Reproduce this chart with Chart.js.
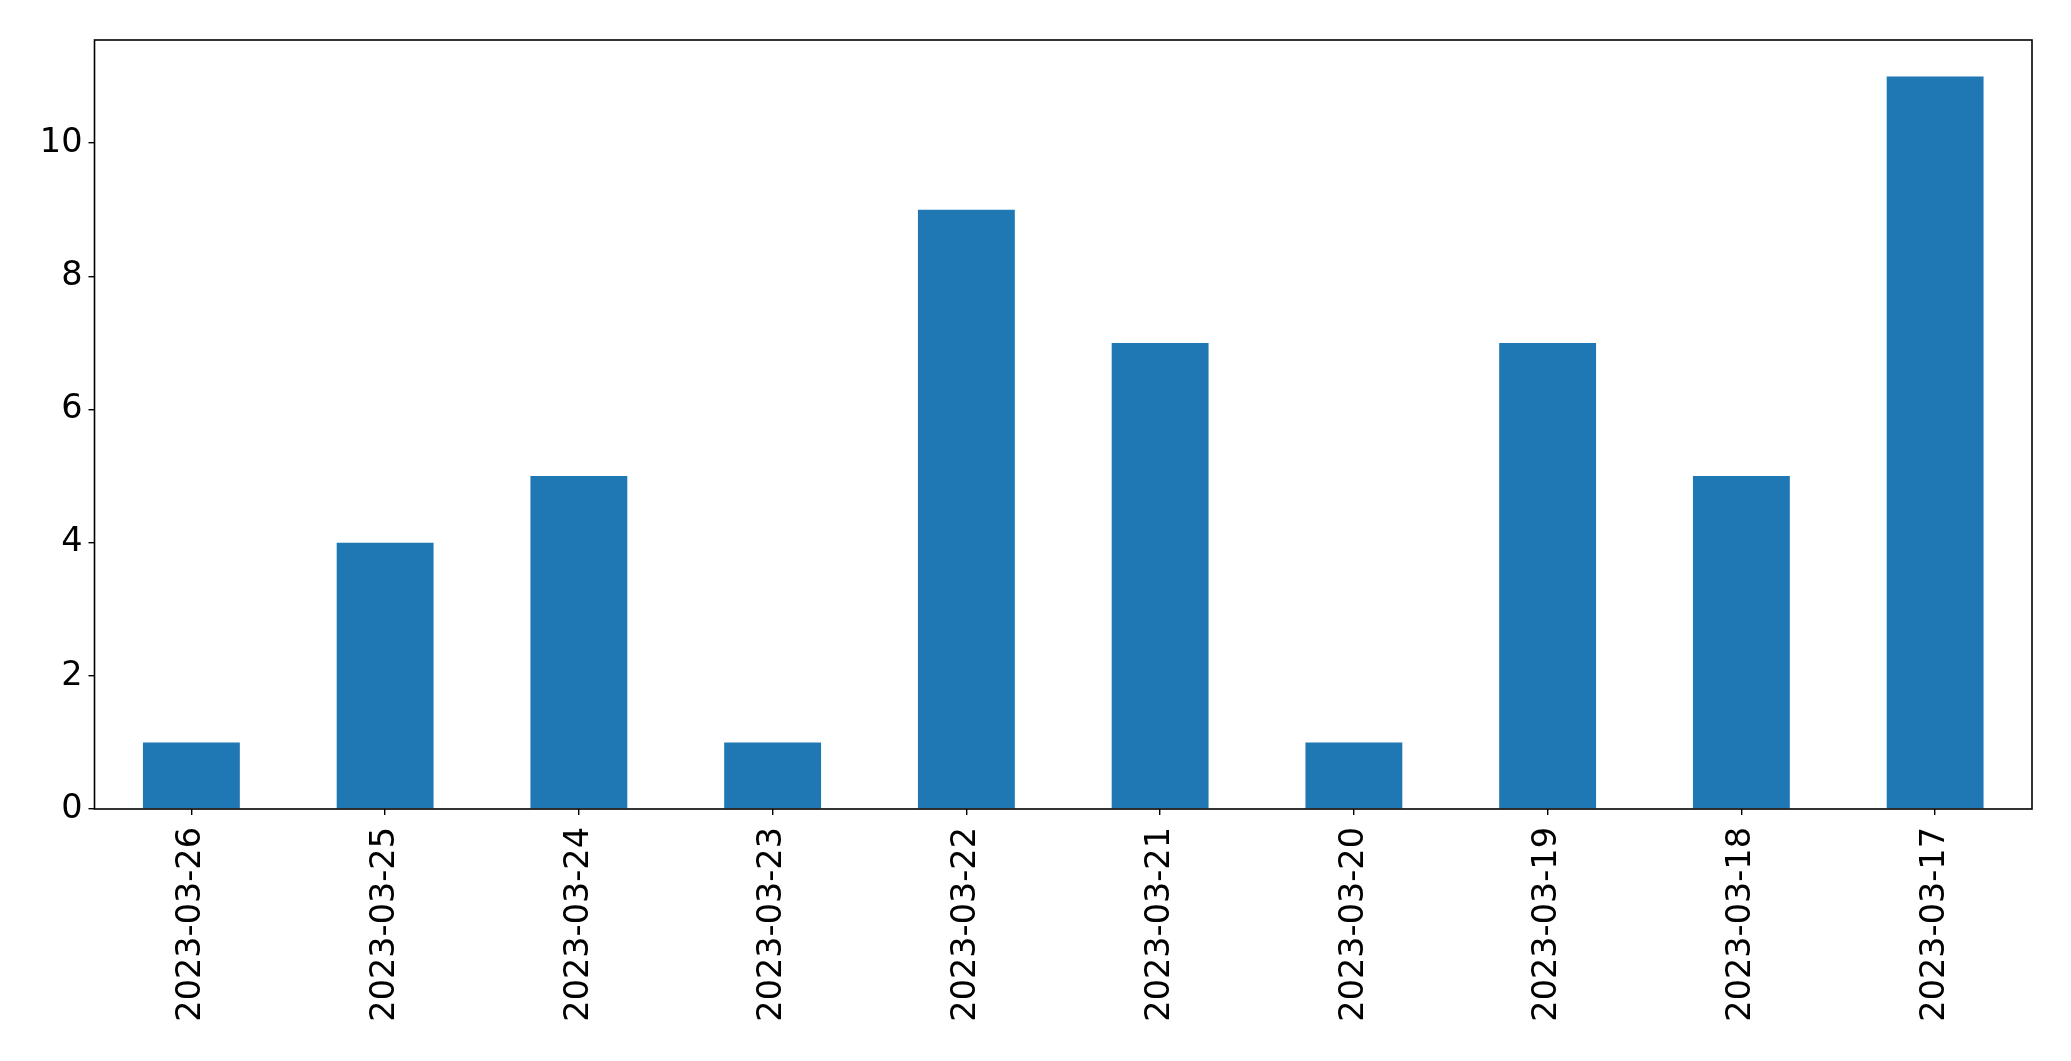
<!DOCTYPE html>
<html>
<head>
<meta charset="utf-8">
<script src="https://cdn.jsdelivr.net/npm/chart.js@4/dist/chart.umd.min.js"></script>
<style>
  html, body { margin: 0; padding: 0; background: #fff; }
  #wrap { width: 2071px; height: 1061px; }
</style>
</head>
<body>
<div id="wrap"><canvas id="chart" width="2071" height="1061"></canvas></div>
<script>
// Data
const dates = ['2023-03-26', '2023-03-25', '2023-03-24', '2023-03-23', '2023-03-22',
               '2023-03-21', '2023-03-20', '2023-03-19', '2023-03-18', '2023-03-17'];
const counts = [1, 4, 5, 1, 9, 7, 1, 7, 5, 11];
const yTicks = [0, 2, 4, 6, 8, 10];

// Draw the full box round the plot area, like matplotlib
const frame = {
  id: 'frame',
  afterDraw(chart) {
    const { ctx, chartArea: a } = chart;
    ctx.save();
    ctx.strokeStyle = '#000';
    ctx.lineWidth = 1.6;
    ctx.strokeRect(a.left, a.top, a.right - a.left, a.bottom - a.top);
    ctx.restore();
  }
};

Chart.defaults.font.family = '"DejaVu Sans", sans-serif';
Chart.defaults.color = '#000';

new Chart(document.getElementById('chart'), {
  type: 'bar',
  data: {
    labels: dates,
    datasets: [{
      data: counts,
      backgroundColor: '#1f77b4',
      borderWidth: 0,
      barPercentage: 0.5,
      categoryPercentage: 1
    }]
  },
  options: {
    responsive: false,
    animation: false,
    layout: { padding: { top: 40, right: 39, left: 0, bottom: 0 } },
    plugins: { legend: { display: false }, tooltip: { enabled: false } },
    scales: {
      x: {
        afterFit(scale) { scale.height = 252; },
        grid: { offset: false, drawOnChartArea: false, tickLength: 6, color: '#000', lineWidth: 1.4 },
        border: { display: false },
        ticks: { minRotation: 90, maxRotation: 90, autoSkip: false, padding: 12, font: { size: 33.5 } }
      },
      y: {
        min: 0,
        max: 11.55,
        afterFit(scale) { scale.width = 94.5; },
        afterBuildTicks(scale) { scale.ticks = yTicks.map(v => ({ value: v })); },
        grid: { drawOnChartArea: false, tickLength: 6, color: '#000', lineWidth: 1.4 },
        border: { display: false },
        ticks: { padding: 6, font: { size: 33.5 } }
      }
    }
  },
  plugins: [frame]
});
</script>
</body>
</html>
